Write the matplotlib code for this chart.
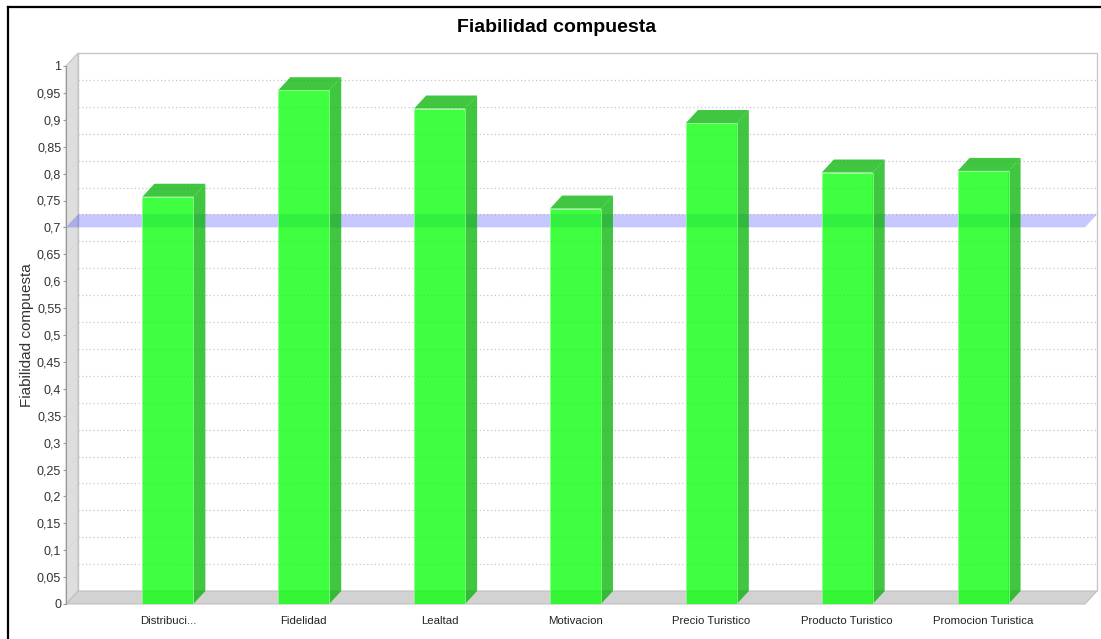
import numpy as np
import matplotlib
matplotlib.use("Agg")
import matplotlib.pyplot as plt
from matplotlib.patches import Polygon
from matplotlib.lines import Line2D

plt.rcParams['font.family'] = ['Liberation Sans Narrow', 'Liberation Sans', 'DejaVu Sans']

categorias = ['Distribuci...', 'Fidelidad', 'Lealtad', 'Motivacion',
              'Precio Turistico', 'Producto Turistico', 'Promocion Turistica']
fiabilidad = [0.757, 0.955, 0.921, 0.735, 0.894, 0.802, 0.805]
umbral = 0.7
ticks_y = np.round(np.arange(0, 1.0001, 0.05), 2)

W, H = 1101, 639
fig = plt.figure(figsize=(W / 100, H / 100), dpi=100)

# front plane of the 3D plot, in pixels
px_l, px_r, px_t, px_b = 66, 1085, 66, 604
ax = fig.add_axes([px_l / W, 1 - px_b / H, (px_r - px_l) / W, (px_b - px_t) / H])
xmin, xmax = -0.75, len(categorias) - 0.25
ax.set_xlim(xmin, xmax)
ax.set_ylim(0, 1)

# depth offset (12 px right, 13 px up) in data units
ddx = 12 * (xmax - xmin) / (px_r - px_l)
ddy = 13 / (px_b - px_t)

# back wall outline
ax.add_patch(Polygon([(xmin + ddx, ddy), (xmin + ddx, 1 + ddy), (xmax + ddx, 1 + ddy),
                      (xmax + ddx, ddy)], closed=False, facecolor='white',
                     edgecolor='#c8c8c8', lw=1, clip_on=False, zorder=0))

# gridlines on the back wall and the left wall
for v in ticks_y[1:]:
    ax.plot([xmin + ddx, xmax + ddx], [v + ddy, v + ddy], ls=(0, (1, 2)),
            color='#c8c8c8', lw=0.9, clip_on=False, zorder=1)

# left wall and floor
ax.add_patch(Polygon([(xmin, 0), (xmin, 1), (xmin + ddx, 1 + ddy), (xmin + ddx, ddy)],
                     facecolor='#dedede', edgecolor='#c4c4c4', lw=0.8,
                     clip_on=False, zorder=1.5))
for v in ticks_y[1:-1]:
    ax.plot([xmin, xmin + ddx], [v, v + ddy], color='#d0d0d0', lw=0.6,
            ls=(0, (1, 2)), clip_on=False, zorder=1.6)
ax.add_patch(Polygon([(xmin, 0), (xmax, 0), (xmax + ddx, ddy), (xmin + ddx, ddy)],
                     facecolor='#d2d2d2', edgecolor='#c0c0c0', lw=0.8,
                     clip_on=False, zorder=1.5))

# threshold band
ax.add_patch(Polygon([(xmin, umbral), (xmax, umbral), (xmax + ddx, umbral + ddy),
                      (xmin + ddx, umbral + ddy)], facecolor=(0, 0, 1, 0.22),
                     edgecolor='none', clip_on=False, zorder=2))

# 3D bars
bw = 0.375
frente = (0, 1, 0, 0.75)
lado = (0, 0.7, 0, 0.75)
borde = (0.55, 1, 0.55, 0.9)
for i, v in enumerate(fiabilidad):
    x0, x1 = i - bw / 2, i + bw / 2
    ax.add_patch(Polygon([(x1, 0), (x1 + ddx, ddy), (x1 + ddx, v + ddy), (x1, v)],
                         facecolor=lado, edgecolor='none', clip_on=False, zorder=3))
    ax.add_patch(Polygon([(x0, v), (x0 + ddx, v + ddy), (x1 + ddx, v + ddy), (x1, v)],
                         facecolor=lado, edgecolor='none', clip_on=False, zorder=3))
ax.bar(range(len(categorias)), fiabilidad, width=bw, color=frente,
       edgecolor=borde, linewidth=0.6, zorder=4)

for s in ['top', 'right', 'bottom']:
    ax.spines[s].set_visible(False)
ax.spines['left'].set_color('#9a9a9a')
ax.spines['left'].set_linewidth(0.8)
ax.spines['left'].set_zorder(5)

ax.set_yticks(ticks_y)
ax.set_yticklabels([('%g' % t).replace('.', ',') for t in ticks_y])
ax.tick_params(axis='y', length=2.5, color='#9a9a9a', labelsize=9, pad=1,
               labelcolor='#333333')
ax.set_xticks(range(len(categorias)))
ax.set_xticklabels(categorias)
ax.tick_params(axis='x', length=0, labelsize=8.2, pad=9, labelcolor='#222222')
ax.patch.set_visible(False)

fig.text(27 / W, 1 - 335 / H, 'Fiabilidad compuesta', rotation=90, fontsize=11,
         ha='center', va='center', color='#333333', family=['Liberation Sans', 'DejaVu Sans'])
fig.text(557 / W, 1 - 28 / H, 'Fiabilidad compuesta', fontsize=14, fontweight='bold',
         ha='center', va='center')

# frame edges
fig.add_artist(Line2D([8 / W, 1], [1 - 7 / H, 1 - 7 / H], color='black', lw=1.6))
fig.add_artist(Line2D([8 / W, 8 / W], [0, 1 - 7 / H], color='black', lw=1.6))

fig.savefig('out.png', dpi=100)
